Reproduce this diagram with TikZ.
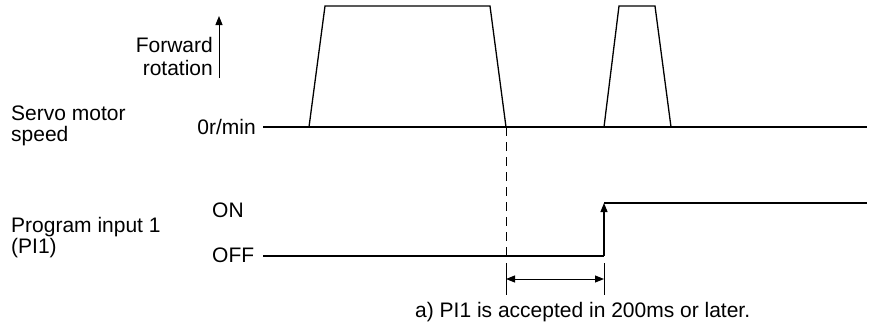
\documentclass[tikz,border=0pt]{standalone}
\usepackage{fontspec}
\setmainfont{Liberation Sans}
\usetikzlibrary{arrows.meta, positioning, calc}

\begin{document}
\begin{tikzpicture}[x=1pt, y=-1pt,
        >={Triangle[length=9pt, width=7pt]},
        lbl/.style={font=\fontsize{21}{23}\selectfont, inner sep=0pt, align=left},
        sig/.style={line width=1.8pt},
        wave/.style={line width=1.3pt, line join=miter},
    ]
    \useasboundingbox (0,0) rectangle (877,324);

    % ---- Left labels ----
    \node[lbl, anchor=base west] (servo) at (11, 120) {Servo motor};
    \node[lbl, anchor=base west] (speed) at (11, 141) {speed};
    \node[lbl, anchor=base west] (prog) at (11, 232) {Program input 1};
    \node[lbl, anchor=base west] (pione) at (11, 253) {(PI1)};

    % ---- Forward rotation arrow ----
    \node[lbl, anchor=base east] (fwd) at (213, 52) {Forward};
    \node[lbl, anchor=base east] (rot) at (213, 75) {rotation};
    \coordinate (fwdlo) at (219, 78);
    \coordinate (fwdhi) at (219, 16);
    \draw[->, line width=1pt] (fwdlo) -- (fwdhi);

    % ---- Speed axis ----
    \node[lbl, anchor=base east] (zero) at (256, 134) {0r/min};
    \coordinate (zl) at (263, 127);
    \coordinate (zr) at (867, 127);
    \draw[sig] (zl) -- (zr);

    % ---- Speed pulses ----
    \draw[wave] (309, 127) -- (325, 6) -- (490, 6) -- (506, 127);
    \draw[wave] (604, 127) -- (619, 6) -- (655, 6) -- (671, 127);
    \coordinate (stop) at (506, 127);

    % ---- PI1 signal ----
    \node[lbl, anchor=base west] (on) at (212, 217) {ON};
    \node[lbl, anchor=base west] (off) at (212, 262) {OFF};
    \coordinate (offl) at (263, 256);
    \coordinate (rise) at (604, 256);
    \coordinate (onl) at (604, 203);
    \coordinate (onr) at (867, 203);
    \draw[line width=1.2pt] (offl) -- (rise);
    \draw[->, line width=1.2pt] (rise) -- (onl);
    \draw[line width=1.2pt] (onl) -- (onr);

    % ---- Delay marker ----
    \draw[dashed, dash pattern=on 9pt off 6pt, line width=0.8pt] (stop) -- (506, 256);
    \coordinate (ta) at (506, 263);
    \coordinate (tb) at (604, 263);
    \draw[line width=0.8pt] (ta) -- ++(0, 32);
    \draw[line width=0.8pt] (tb) -- ++(0, 32);
    \draw[<->, line width=1pt] ($(ta)+(0,16)$) -- ($(tb)+(0,16)$);
    \node[lbl, anchor=base west] (note) at (415, 317) {a) PI1 is accepted in 200ms or later.};

\end{tikzpicture}
\end{document}
